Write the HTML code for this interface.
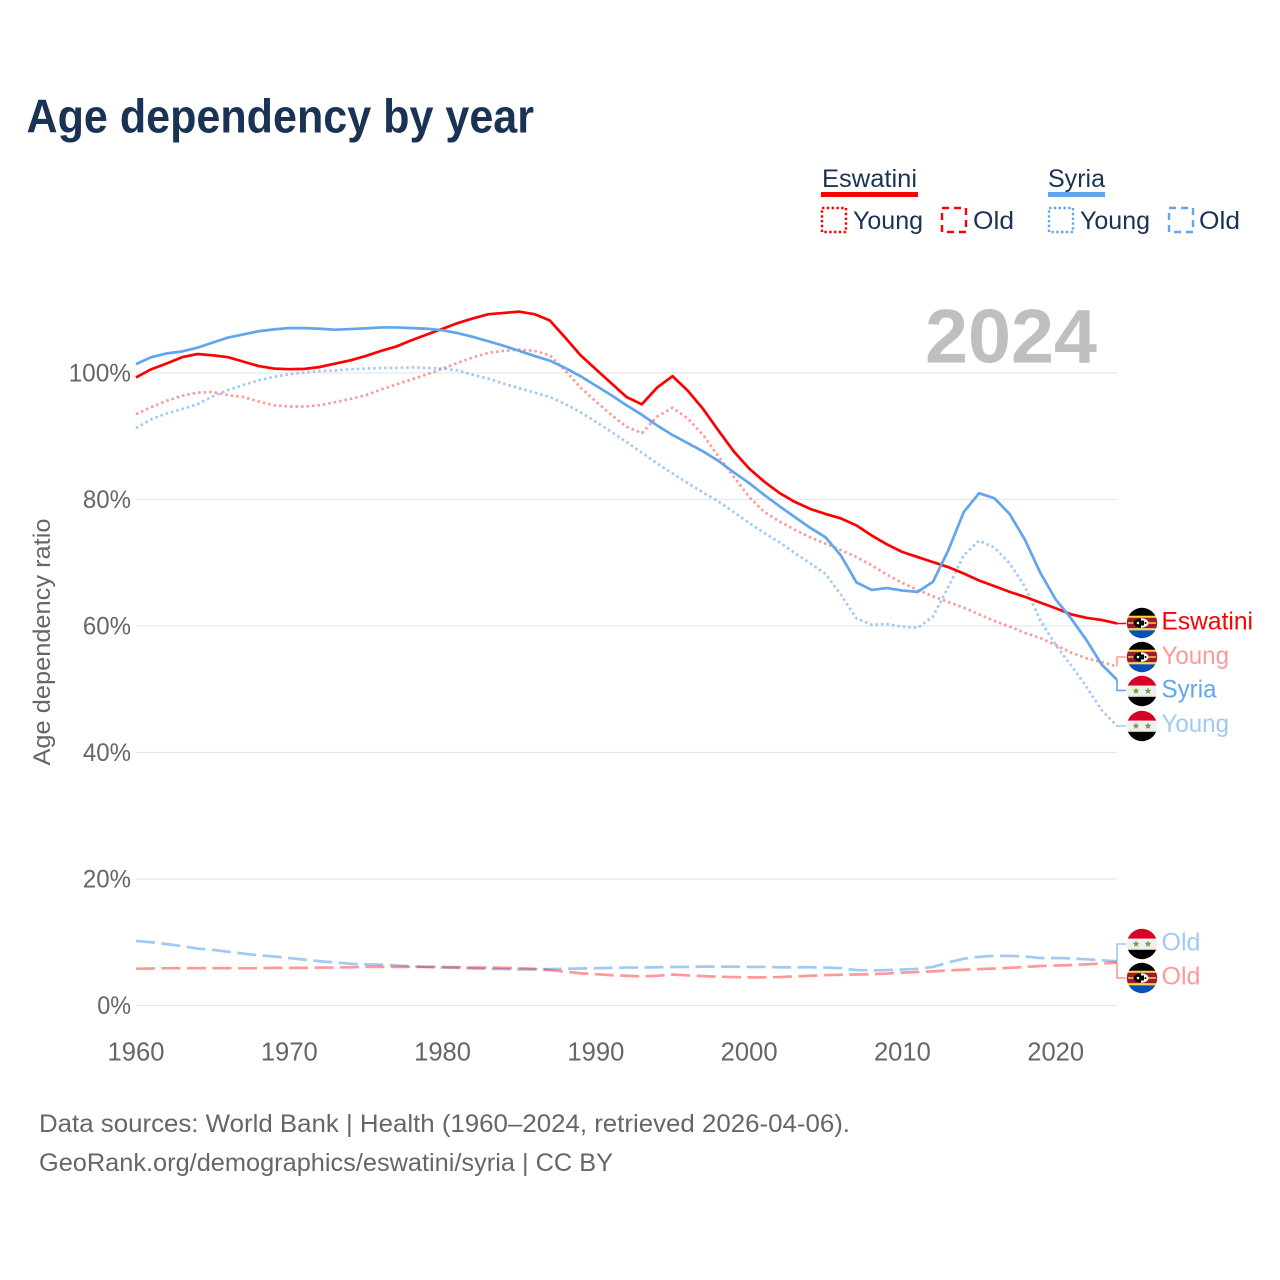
<!DOCTYPE html>
<html lang="en">
<head>
<meta charset="utf-8">
<title>Age dependency by year</title>
<style>
html,body{margin:0;padding:0;background:#fff;width:1280px;height:1280px;overflow:hidden}
svg{display:block}
text{font-family:"Liberation Sans",sans-serif}
.legend-text{fill:#1a3354;font-size:25px}
.muted{fill:#666;font-size:25px}
</style>
</head>
<body>
<svg id="chart" xmlns="http://www.w3.org/2000/svg" width="1280" height="1280" viewBox="0 0 1280 1280">
  <rect width="1280" height="1280" fill="#fff"/>
  <text x="26.5" y="132.5" font-size="47" font-weight="700" fill="#1a3354" textLength="507.5" lengthAdjust="spacingAndGlyphs">Age dependency by year</text>

  <g>
    <text class="legend-text" x="822" y="187" textLength="95" lengthAdjust="spacingAndGlyphs">Eswatini</text>
    <rect x="821" y="192" width="97" height="5" fill="#ff0000"/>
    <rect x="822" y="208" width="24" height="24" fill="none" stroke="#ff0000" stroke-width="2.4" stroke-dasharray="2.4 2.4"/>
    <text class="legend-text" x="853" y="229" textLength="70" lengthAdjust="spacingAndGlyphs">Young</text>
    <rect x="942" y="208" width="24" height="24" fill="none" stroke="#ff0000" stroke-width="2.4" stroke-dasharray="7 5"/>
    <text class="legend-text" x="973" y="229" textLength="41" lengthAdjust="spacingAndGlyphs">Old</text>
    <text class="legend-text" x="1048" y="187" textLength="57" lengthAdjust="spacingAndGlyphs">Syria</text>
    <rect x="1048" y="192" width="57" height="5" fill="#60a5ee"/>
    <rect x="1049" y="208" width="24" height="24" fill="none" stroke="#60a5ee" stroke-width="2.4" stroke-dasharray="2.4 2.4"/>
    <text class="legend-text" x="1080" y="229" textLength="70" lengthAdjust="spacingAndGlyphs">Young</text>
    <rect x="1169" y="208" width="24" height="24" fill="none" stroke="#60a5ee" stroke-width="2.4" stroke-dasharray="7 5"/>
    <text class="legend-text" x="1199" y="229" textLength="41" lengthAdjust="spacingAndGlyphs">Old</text>
  </g>

  <g id="grid"></g>
  <g id="yticks"></g>
  <g id="xticks"></g>
  <text transform="translate(50,642) rotate(-90)" text-anchor="middle" fill="#666" font-size="24" textLength="247" lengthAdjust="spacingAndGlyphs">Age dependency ratio</text>

  <text x="925" y="362.5" font-size="76" font-weight="700" fill="#bfbfbf" textLength="172" lengthAdjust="spacingAndGlyphs">2024</text>

  <g id="series"></g>
  <g id="endlabels"></g>

  <text class="muted" x="39" y="1132" textLength="811" lengthAdjust="spacingAndGlyphs">Data sources: World Bank | Health (1960–2024, retrieved 2026-04-06).</text>
  <text class="muted" x="39" y="1171" textLength="574" lengthAdjust="spacingAndGlyphs">GeoRank.org/demographics/eswatini/syria | CC BY</text>
</svg>
<script>
const startYear = 1960;
const xTickYears = [1960, 1970, 1980, 1990, 2000, 2010, 2020];
const yTickValues = [0, 20, 40, 60, 80, 100];

const eswatiniTotal = [99.3,100.6,101.5,102.5,103.0,102.8,102.5,101.8,101.1,100.7,100.6,100.65,100.95,101.5,102.0,102.7,103.5,104.2,105.2,106.1,107.0,107.9,108.65,109.3,109.5,109.7,109.3,108.3,105.6,102.8,100.6,98.4,96.2,95.05,97.7,99.5,97.2,94.3,90.9,87.6,84.9,82.8,81.0,79.6,78.5,77.7,77.0,75.9,74.3,72.9,71.7,70.9,70.1,69.3,68.3,67.2,66.3,65.4,64.6,63.7,62.8,61.85,61.3,60.95,60.4];
const syriaTotal = [101.4,102.5,103.1,103.4,104.0,104.8,105.6,106.1,106.6,106.9,107.1,107.1,107.0,106.85,106.95,107.05,107.2,107.2,107.1,107.0,106.75,106.3,105.7,105.0,104.3,103.5,102.7,101.95,100.8,99.5,98.0,96.5,94.9,93.4,91.7,90.2,88.9,87.6,86.1,84.3,82.6,80.7,78.9,77.2,75.5,74.0,71.1,66.9,65.7,66.0,65.6,65.4,67.0,72.0,78.0,81.0,80.2,77.7,73.6,68.4,64.2,61.2,57.8,53.9,51.5];
const eswatiniYoung = [93.5,94.6,95.6,96.4,96.9,97.0,96.5,96.2,95.5,94.9,94.7,94.7,94.9,95.4,95.9,96.5,97.4,98.2,99.0,99.8,100.7,101.6,102.5,103.2,103.5,103.7,103.5,102.8,100.4,97.7,95.5,93.4,91.5,90.5,93.1,94.5,92.8,90.2,86.8,83.6,80.4,78.0,76.5,75.2,74.0,73.0,72.0,70.9,69.6,68.1,66.8,65.7,64.7,63.8,62.9,61.85,60.8,59.9,58.9,58.1,57.0,55.8,54.9,54.3,53.6];
const syriaYoung = [91.3,92.7,93.6,94.3,95.05,96.3,97.3,98.1,98.85,99.4,99.8,100.1,100.3,100.4,100.6,100.7,100.8,100.8,100.9,100.8,100.7,100.4,99.7,99.1,98.3,97.6,96.9,96.2,95.1,93.8,92.3,90.7,89.1,87.4,85.7,84.1,82.6,81.1,79.7,78.0,76.3,74.7,73.2,71.5,69.9,68.2,64.9,61.2,60.2,60.3,59.9,59.7,61.5,66.2,71.2,73.5,72.4,69.9,66.2,60.9,57.0,53.8,50.4,46.7,44.2];
const eswatiniOld = [5.8,5.85,5.9,5.9,5.9,5.9,5.9,5.9,5.9,5.95,5.95,5.95,6.0,6.0,6.05,6.1,6.1,6.1,6.1,6.1,6.1,6.05,6.0,6.0,5.95,5.9,5.8,5.6,5.35,5.1,4.95,4.8,4.7,4.6,4.7,4.9,4.75,4.65,4.55,4.5,4.45,4.45,4.5,4.6,4.7,4.8,4.85,4.9,4.95,5.05,5.2,5.3,5.4,5.55,5.65,5.75,5.85,5.95,6.1,6.25,6.3,6.4,6.5,6.65,6.8];
const syriaOld = [10.2,10.0,9.7,9.4,9.0,8.8,8.5,8.2,7.95,7.75,7.5,7.25,7.0,6.8,6.6,6.5,6.45,6.35,6.2,6.1,6.0,5.95,5.85,5.8,5.75,5.7,5.7,5.75,5.8,5.85,5.9,5.95,6.0,6.0,6.05,6.1,6.1,6.15,6.15,6.15,6.1,6.1,6.05,6.05,6.05,6.0,5.9,5.6,5.55,5.6,5.7,5.8,6.1,6.8,7.4,7.7,7.85,7.85,7.75,7.5,7.5,7.45,7.3,7.15,7.0];

const NS = 'http://www.w3.org/2000/svg';
const xScale = function (year) { return 136 + (year - 1960) * (981 / 64); };
const yScale = function (v) { return 1005.5 - v * 6.325; };

function make(tag, attrs, parent) {
  const el = document.createElementNS(NS, tag);
  for (const k in attrs) el.setAttribute(k, attrs[k]);
  parent.appendChild(el);
  return el;
}

const gridG = document.getElementById('grid');
const yG = document.getElementById('yticks');
const xG = document.getElementById('xticks');
const seriesG = document.getElementById('series');
const labelsG = document.getElementById('endlabels');

yTickValues.forEach(function (v) {
  const line = make('line', { x1: 136, x2: 1117, y1: yScale(v), y2: yScale(v), stroke: '#e8e8e8', 'stroke-width': 1.3 }, gridG);
  
  
  const label = v + '%';
  const t = make('text', { x: 131, y: yScale(v) + 8.5, 'text-anchor': 'end', class: 'muted', textLength: ((label.length - 1) * 14.3 + 19.5).toFixed(1), lengthAdjust: 'spacingAndGlyphs' }, yG);
  t.textContent = label;
  
  
});

xTickYears.forEach(function (yr) {
  const t = make('text', { x: xScale(yr), y: 1060.5, 'text-anchor': 'middle', class: 'muted', style: 'font-size:25.6px' }, xG);
  t.textContent = String(yr);
  
  
});

function drawLine(name, values, color, opacity, dash) {
  const pts = values.map(function (v, i) { return xScale(startYear + i).toFixed(2) + ',' + yScale(v).toFixed(2); });
  const p = make('polyline', { points: pts.join(' '), fill: 'none', stroke: color, 'stroke-width': 2.7, 'stroke-opacity': opacity, 'stroke-linejoin': 'round' }, seriesG);
  if (dash) p.setAttribute('stroke-dasharray', dash);
  
  
}

function drawConnector(name, values, color, opacity, labelY) {
  const last = values[values.length - 1];
  const c = make('path', { d: 'M1117 ' + yScale(last).toFixed(2) + 'V' + labelY + 'H1126', fill: 'none', stroke: color, 'stroke-width': 1.6, 'stroke-opacity': opacity }, seriesG);
  
  
}

function drawLabel(name, text, color, opacity, baseline, width) {
  const t = make('text', { x: 1161.5, y: baseline, 'font-size': 25, fill: color, 'fill-opacity': opacity, textLength: width, lengthAdjust: 'spacingAndGlyphs' }, labelsG);
  t.textContent = text;
  
  
}

let clipCount = 0;
function flagBase(name, cy) {
  clipCount += 1;
  const id = 'flag-clip-' + clipCount;
  const g = make('g', { transform: 'translate(1142,' + cy + ')', 'clip-path': 'url(#' + id + ')' }, labelsG);
  
  
  const clip = make('clipPath', { id: id }, g);
  make('circle', { cx: 0, cy: 0, r: 15.2 }, clip);
  return g;
}

function eswatiniFlag(name, cy) {
  const g = flagBase(name, cy);
  make('rect', { x: -16, y: -16, width: 32, height: 9, fill: '#000' }, g);
  make('rect', { x: -16, y: -7.3, width: 32, height: 2, fill: '#ffd83d' }, g);
  make('rect', { x: -16, y: -5.3, width: 32, height: 10.6, fill: '#a2182e' }, g);
  make('rect', { x: -16, y: 5.3, width: 32, height: 2, fill: '#ffd83d' }, g);
  make('rect', { x: -16, y: 7.3, width: 32, height: 9, fill: '#0a4fb5' }, g);
  make('rect', { x: -14, y: -0.7, width: 28, height: 1.4, fill: '#ffd83d' }, g);
  make('ellipse', { cx: -1, cy: 0, rx: 7.5, ry: 4.8, fill: '#fff' }, g);
  make('path', { d: 'M-1 -4.8A7.5 4.8 0 0 0 -1 4.8Z', fill: '#000' }, g);
  make('rect', { x: -1, y: -2.5, width: 3, height: 5, fill: '#000' }, g);
  make('circle', { cx: -4, cy: 0, r: 1.3, fill: '#fff' }, g);
  make('circle', { cx: 3.5, cy: 0, r: 1, fill: '#000' }, g);
}

function star(g, cx, cy, r) {
  const p = [];
  for (let i = 0; i < 10; i++) {
    const a = -Math.PI / 2 + i * Math.PI / 5;
    const rr = i % 2 ? r * 0.45 : r;
    p.push((cx + rr * Math.cos(a)).toFixed(2) + ',' + (cy + rr * Math.sin(a)).toFixed(2));
  }
  make('polygon', { points: p.join(' '), fill: '#6da544' }, g);
}

function syriaFlag(name, cy) {
  const g = flagBase(name, cy);
  make('rect', { x: -16, y: -16, width: 32, height: 10.7, fill: '#d80027' }, g);
  make('rect', { x: -16, y: -5.3, width: 32, height: 10, fill: '#f0f0f0' }, g);
  make('rect', { x: -16, y: 4.7, width: 32, height: 1.2, fill: '#cfcfcf' }, g);
  make('rect', { x: -16, y: 5.9, width: 32, height: 11, fill: '#000' }, g);
  star(g, -6, 0, 3.6);
  star(g, 6, 0, 3.6);
}

// Old lines first, then young, then totals, bottom-up as stacked in the chart.
drawLine('line-syria-old', syriaOld, '#60a5ee', 0.6, '19 6.5');
drawLine('line-eswatini-old', eswatiniOld, '#ff0000', 0.4, '19 6.5');
drawLine('line-eswatini-young', eswatiniYoung, '#ff0000', 0.4, '2.5 3');
drawLine('line-syria-young', syriaYoung, '#60a5ee', 0.6, '2.5 3');
drawLine('line-eswatini-total', eswatiniTotal, '#ff0000', 1, null);
drawLine('line-syria-total', syriaTotal, '#60a5ee', 1, null);

drawConnector('connector-eswatini', eswatiniTotal, '#ff0000', 1, 623.5);
drawConnector('connector-eswatini-young', eswatiniYoung, '#ff0000', 0.4, 657);
drawConnector('connector-syria', syriaTotal, '#60a5ee', 1, 690.5);
drawConnector('connector-syria-young', syriaYoung, '#60a5ee', 0.6, 726);
drawConnector('connector-syria-old', syriaOld, '#60a5ee', 0.6, 944);
drawConnector('connector-eswatini-old', eswatiniOld, '#ff0000', 0.4, 978);

eswatiniFlag('flag-eswatini', 623);
drawLabel('end-label-eswatini', 'Eswatini', '#ff0000', 1, 629.5, 91.5);
eswatiniFlag('flag-eswatini-young', 657);
drawLabel('end-label-eswatini-young', 'Young', '#ff0000', 0.4, 664, 67.5);
syriaFlag('flag-syria', 691);
drawLabel('end-label-syria', 'Syria', '#60a5ee', 1, 697.5, 55);
syriaFlag('flag-syria-young', 726);
drawLabel('end-label-syria-young', 'Young', '#60a5ee', 0.6, 732, 67.5);
syriaFlag('flag-syria-old', 944);
drawLabel('end-label-syria-old', 'Old', '#60a5ee', 0.6, 950.5, 39);
eswatiniFlag('flag-eswatini-old', 978);
drawLabel('end-label-eswatini-old', 'Old', '#ff0000', 0.4, 984.5, 39);
</script>
</body>
</html>
